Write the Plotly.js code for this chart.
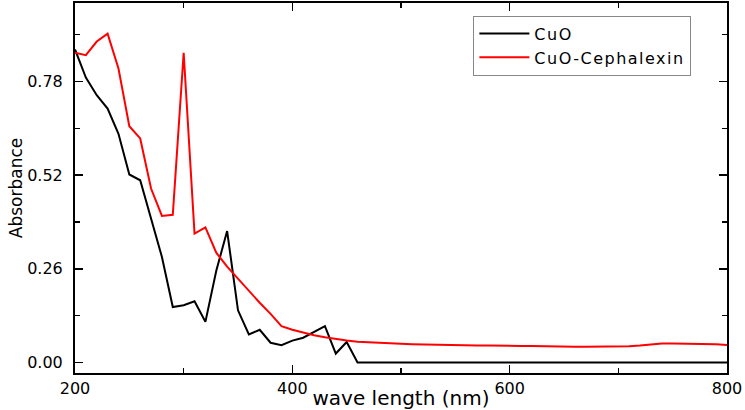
<!DOCTYPE html>
<html>
<head>
<meta charset="utf-8">
<script src="https://cdn.plot.ly/plotly-3.0.1.min.js"></script>
<style>
  html, body { margin: 0; padding: 0; background: #ffffff; }
  #chart { width: 745px; height: 410px; }
  /* slightly airier lettering for the legend entries */
  text.legendtext { letter-spacing: 1.5px; }
</style>
</head>
<body>
<div id="chart"></div>
<script>
// UV-Vis absorbance spectra, sampled every 10 nm
const wavelength = [
  200, 210, 220, 230, 240, 250, 260, 270, 280, 290,
  300, 310, 320, 330, 340, 350, 360, 370, 380, 390,
  400, 410, 420, 430, 440, 450, 460, 470, 480, 490,
  500, 510, 520, 530, 540, 550, 560, 570, 580, 590,
  600, 610, 620, 630, 640, 650, 660, 670, 680, 690,
  700, 710, 720, 730, 740, 750, 760, 770, 780, 790,
  800
];

const absCuO = [
  0.869, 0.791, 0.742, 0.705, 0.635, 0.522, 0.506, 0.400, 0.293, 0.154,
  0.159, 0.170, 0.113, 0.255, 0.365, 0.145, 0.078, 0.091, 0.055, 0.048,
  0.061, 0.069, 0.084, 0.101, 0.025, 0.057, 0.000, 0.000, 0.000, 0.000,
  0.000, 0.000, 0.000, 0.000, 0.000, 0.000, 0.000, 0.000, 0.000, 0.000,
  0.000, 0.000, 0.000, 0.000, 0.000, 0.000, 0.000, 0.000, 0.000, 0.000,
  0.000, 0.000, 0.000, 0.000, 0.000, 0.000, 0.000, 0.000, 0.000, 0.000,
  0.000
];

const absCuOCephalexin = [
  0.860, 0.853, 0.891, 0.913, 0.816, 0.656, 0.622, 0.483, 0.407, 0.410,
  0.860, 0.358, 0.375, 0.305, 0.266, 0.232, 0.198, 0.166, 0.135, 0.101,
  0.091, 0.083, 0.076, 0.070, 0.065, 0.061, 0.058, 0.056, 0.054, 0.053,
  0.052, 0.051, 0.050, 0.049, 0.049, 0.048, 0.048, 0.047, 0.047, 0.046,
  0.046, 0.046, 0.046, 0.045, 0.045, 0.045, 0.044, 0.044, 0.044, 0.044,
  0.044, 0.045, 0.047, 0.050, 0.053, 0.053, 0.053, 0.053, 0.052, 0.051,
  0.049
];

const seriesNames = ['CuO', 'CuO-Cephalexin'];
const yTickValues = [0.00, 0.26, 0.52, 0.78];
const xTickValues = [200, 400, 600, 800];

const traces = [
  {
    x: wavelength, y: absCuO, name: seriesNames[0],
    type: 'scatter', mode: 'lines',
    line: { color: '#000000', width: 2 }
  },
  {
    x: wavelength, y: absCuOCephalexin, name: seriesNames[1],
    type: 'scatter', mode: 'lines',
    line: { color: '#ff0000', width: 2 }
  }
];

const axisCommon = {
  showline: true, linecolor: '#000000', linewidth: 2,
  mirror: 'ticks', ticks: 'inside', ticklen: 8, tickwidth: 1.5,
  tickcolor: '#000000', showgrid: false, zeroline: false,
  tickfont: { family: 'DejaVu Sans', size: 16, color: '#000000' }
};

const layout = {
  width: 745, height: 410,
  margin: { l: 75, r: 18, t: 3, b: 37 },
  paper_bgcolor: '#ffffff', plot_bgcolor: '#ffffff',
  font: { family: 'DejaVu Sans', color: '#000000' },
  showlegend: true,
  legend: {
    x: 0.611, y: 0.966, xanchor: 'left', yanchor: 'top',
    bordercolor: '#888888', borderwidth: 1, bgcolor: '#ffffff',
    font: { family: 'DejaVu Sans', size: 16, color: '#000000' },
    tracegroupgap: 0, itemwidth: 50
  },
  xaxis: Object.assign({}, axisCommon, {
    range: [200, 800],
    tickmode: 'array', tickvals: xTickValues,
    ticktext: xTickValues.map(String),
    minor: { ticks: 'inside', dtick: 100, tick0: 200, ticklen: 5, tickwidth: 1.5, tickcolor: '#000000' },
    title: { text: 'wave length (nm)', font: { family: 'DejaVu Sans', size: 20, color: '#000000' }, standoff: 0 }
  }),
  yaxis: Object.assign({}, axisCommon, {
    range: [-0.029, 0.998],
    tickmode: 'array', tickvals: yTickValues,
    ticktext: yTickValues.map(v => v.toFixed(2)),
    minor: { ticks: 'inside', dtick: 0.13, tick0: 0, ticklen: 5, tickwidth: 1.5, tickcolor: '#000000' },
    ticklabelstandoff: 7,
    title: { text: 'Absorbance', font: { family: 'DejaVu Sans', size: 17, color: '#000000' }, standoff: 0 }
  })
};

Plotly.newPlot('chart', traces, layout, { displayModeBar: false, staticPlot: true });
</script>
</body>
</html>
